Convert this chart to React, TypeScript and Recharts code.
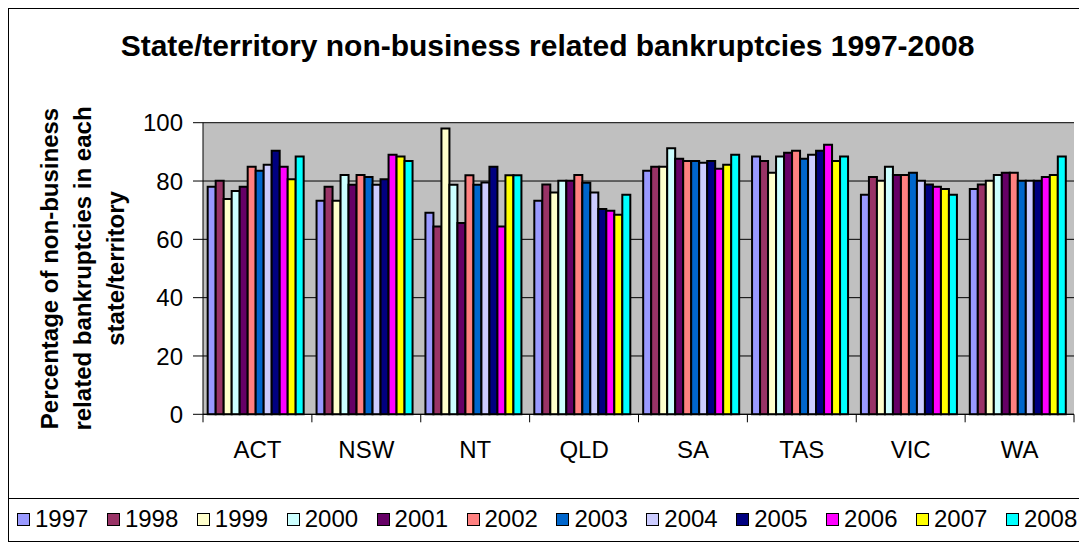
import React from 'react';
import { BarChart, Bar, XAxis, YAxis, CartesianGrid } from 'recharts';

// State/territory non-business related bankruptcies, % by year
const categories = ['ACT', 'NSW', 'NT', 'QLD', 'SA', 'TAS', 'VIC', 'WA'];
const years = ['1997', '1998', '1999', '2000', '2001', '2002', '2003', '2004', '2005', '2006', '2007', '2008'];

const y1997 = [78.0, 73.2, 69.1, 73.2, 83.5, 88.4, 75.3, 77.3];
const y1998 = [80.1, 78.0, 64.4, 78.8, 84.9, 86.9, 81.4, 78.8];
const y1999 = [73.8, 73.2, 98.0, 76.1, 84.9, 82.8, 80.1, 80.1];
const y2000 = [76.6, 82.1, 78.7, 80.1, 91.2, 88.4, 84.9, 82.1];
const y2001 = [78.0, 78.7, 65.6, 80.1, 87.6, 89.7, 82.1, 82.8];
const y2002 = [84.9, 82.1, 82.0, 82.1, 86.9, 90.4, 82.1, 82.8];
const y2003 = [83.5, 81.4, 78.7, 79.4, 86.9, 87.6, 82.8, 80.1];
const y2004 = [85.6, 78.7, 79.5, 76.1, 86.3, 89.0, 80.1, 80.1];
const y2005 = [90.4, 80.6, 84.9, 70.4, 86.9, 90.4, 78.8, 80.1];
const y2006 = [84.9, 89.0, 64.4, 69.8, 84.2, 92.4, 78.0, 81.4];
const y2007 = [80.6, 88.4, 82.0, 68.4, 85.6, 86.9, 77.3, 82.1];
const y2008 = [88.4, 86.9, 82.0, 75.3, 89.0, 88.4, 75.3, 88.4];

const seriesValues = [y1997, y1998, y1999, y2000, y2001, y2002, y2003, y2004, y2005, y2006, y2007, y2008];
const yTicks = [0, 20, 40, 60, 80, 100];

// excel default chart palette
const colors = [
  '#9999FF', '#993366', '#FFFFCC', '#CCFFFF', '#660066', '#FF8080',
  '#0066CC', '#CCCCFF', '#000080', '#FF00FF', '#FFFF00', '#00FFFF',
];

const data = categories.map((name, i) => {
  const row: Record<string, string | number> = { name };
  years.forEach((yr, j) => {
    row[yr] = seriesValues[j][i];
  });
  return row;
});

const FONT = 'Arial, "Liberation Sans", sans-serif';

function CategoryTick(props: any) {
  const { x, y, payload, index } = props;
  const half = payload?.offset ?? 54.4;
  return (
    <g>
      <line x1={x - half} x2={x - half} y1={y - 8} y2={y} stroke="#000" />
      {index === categories.length - 1 && (
        <line x1={x + half} x2={x + half} y1={y - 8} y2={y} stroke="#000" />
      )}
      <text x={x} y={y + 36} textAnchor="middle" fontSize={24} fontFamily={FONT} fill="#000">
        {payload.value}
      </text>
    </g>
  );
}

function YTitle() {
  return (
    <text
      transform="translate(0, 259.5) rotate(-90)"
      textAnchor="middle"
      fontSize={24}
      fontWeight="bold"
      fontFamily={FONT}
      fill="#000"
    >
      <tspan x={0} y={49}>Percentage of non-business</tspan>
      <tspan x={0} y={82}>related bankruptcies in each</tspan>
      <tspan x={0} y={115}>state/territory</tspan>
    </text>
  );
}

export default function App() {
  return (
    <div
      style={{
        position: 'relative',
        width: 1077,
        height: 532,
        border: '1px solid #000',
        background: '#fff',
        fontFamily: FONT,
        overflow: 'hidden',
      }}
    >
      <div
        style={{
          position: 'absolute',
          top: 19,
          left: 0,
          width: '100%',
          textAlign: 'center',
          fontSize: 30,
          fontWeight: 'bold',
          lineHeight: '36px',
        }}
      >
        State/territory non-business related bankruptcies 1997-2008
      </div>
      <BarChart
        width={1077}
        height={532}
        data={data}
        barCategoryGap="4.3%"
        barGap={0}
        margin={{ top: 113.7, right: 12, left: 134, bottom: 96.7 }}
      >
        <CartesianGrid horizontal vertical={false} fill="#C0C0C0" stroke="#000" fillOpacity={1} />
        <XAxis
          dataKey="name"
          height={30}
          tickSize={8}
          tickMargin={0}
          tickLine={false}
          axisLine={{ stroke: '#000' }}
          tick={<CategoryTick />}
          interval={0}
        />
        <YAxis
          width={60}
          domain={[0, 100]}
          ticks={yTicks}
          tickSize={10}
          tickMargin={10}
          axisLine={{ stroke: '#000' }}
          tickLine={{ stroke: '#000' }}
          tick={{ fontSize: 24, fill: '#000', fontFamily: FONT }}
          label={{ content: () => <YTitle /> }}
        />
        <YAxis
          yAxisId="frame"
          orientation="right"
          width={0}
          domain={[0, 100]}
          tick={false}
          tickLine={false}
          axisLine={{ stroke: '#808080', strokeWidth: 2 }}
        />
        {years.map((yr, j) => (
          <Bar
            key={yr}
            dataKey={yr}
            fill={colors[j]}
            stroke="#000"
            strokeWidth={2}
            isAnimationActive={false}
          />
        ))}
      </BarChart>
      <div
        style={{
          position: 'absolute',
          left: -1,
          right: -1,
          top: 489,
          bottom: -1,
          border: '1px solid #000',
        }}
      >
        {years.map((yr, j) => (
          <div
            key={yr}
            style={{
              position: 'absolute',
              left: 8 + j * 89.9,
              top: 6,
              height: 28,
              display: 'flex',
              alignItems: 'center',
              fontSize: 24,
              whiteSpace: 'nowrap',
            }}
          >
            <span
              style={{
                display: 'inline-block',
                width: 11,
                height: 11,
                background: colors[j],
                border: '1.5px solid #000',
                marginRight: 5,
              }}
            />
            <span>{yr}</span>
          </div>
        ))}
      </div>
    </div>
  );
}
